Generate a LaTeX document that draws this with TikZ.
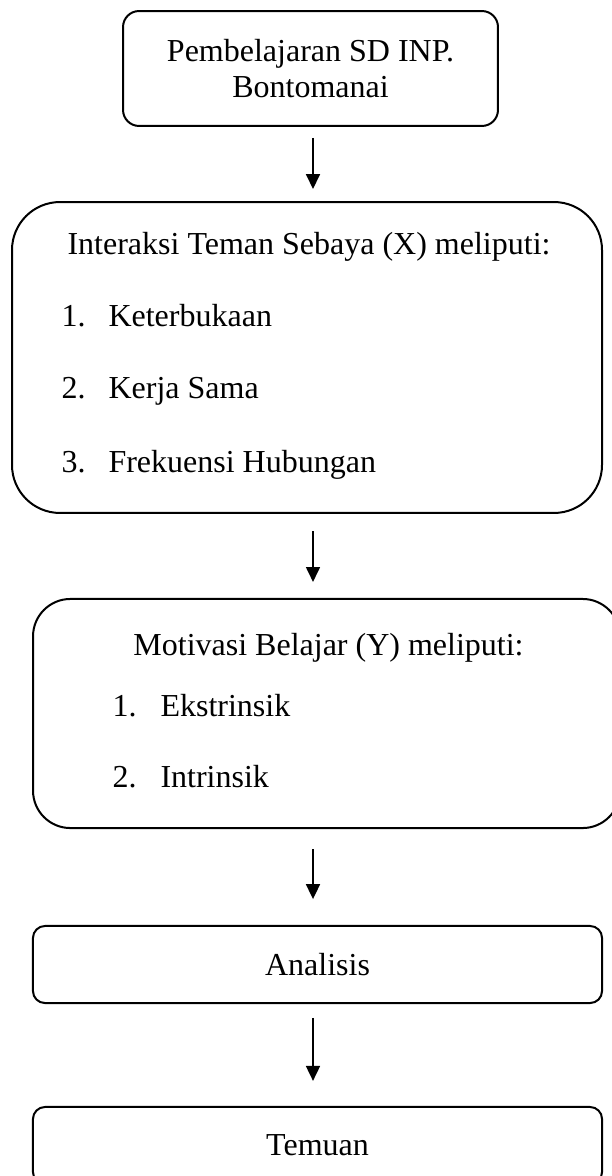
\documentclass[tikz,border=0pt]{standalone}
\usepackage{fontspec}
\setmainfont{Liberation Serif}
\usetikzlibrary{arrows.meta}
\begin{document}
\begin{tikzpicture}[x=0.375pt,y=-0.375pt,
                    box/.style={draw,line width=0.75pt,align=center,inner sep=0pt,
                                font=\fontsize{12}{13.8}\selectfont},
                    txt/.style={inner sep=0pt,font=\fontsize{12}{13.8}\selectfont},
                    flow/.style={line width=0.75pt,-{Triangle[length=5.6pt,width=5.2pt]}}
                   ]
  \useasboundingbox (0,0) rectangle (611,1176);
  \coordinate (ax) at (313,0);

  % boxes
  \node[box,minimum width=140.6pt,minimum height=43.1pt,rounded corners=6pt] (sd) at (310.5,68.5)
       {Pembelajaran SD INP.\\Bontomanai};
  \node[box,minimum width=221.25pt,minimum height=116.6pt,rounded corners=18pt] (x) at (307,357.5) {};
  \node[box,minimum width=220.1pt,minimum height=85.9pt,rounded corners=14pt] (y) at (326.5,713.5) {};
  \node[box,minimum width=213.4pt,minimum height=28.9pt,rounded corners=4.5pt] (an) at (317.5,964.5) {Analisis};
  \node[box,minimum width=213.4pt,minimum height=28.9pt,rounded corners=4.5pt] (tm) at (317.5,1145.5) {Temuan};

  % list in box X
  \node[txt,anchor=base] (xh) at (309,255) {Interaksi Teman Sebaya (X) meliputi:};
  \node[txt,anchor=base west] (x1n) at (61,327) {1.};
  \node[txt,anchor=base west] (x1) at (108,327) {Keterbukaan};
  \node[txt,anchor=base west] (x2n) at (61,398) {2.};
  \node[txt,anchor=base west] (x2) at (108,398) {Kerja Sama};
  \node[txt,anchor=base west] (x3n) at (61,472) {3.};
  \node[txt,anchor=base west] (x3) at (108,472) {Frekuensi Hubungan};

  % list in box Y
  \node[txt,anchor=base] (yh) at (328.5,655) {Motivasi Belajar (Y) meliputi:};
  \node[txt,anchor=base west] (y1n) at (112,716) {1.};
  \node[txt,anchor=base west] (y1) at (160,716) {Ekstrinsik};
  \node[txt,anchor=base west] (y2n) at (112,787) {2.};
  \node[txt,anchor=base west] (y2) at (160,787) {Intrinsik};

  \path%
   (sd.south -| ax) edge [flow,shorten <=4.1pt,shorten >=4.5pt] (x.north -| ax)
   (x.south -| ax)  edge [flow,shorten <=6.4pt,shorten >=6pt]   (y.north -| ax)
   (y.south -| ax)  edge [flow,shorten <=7.5pt,shorten >=9.7pt] (an.north -| ax)
   (an.south -| ax) edge [flow,shorten <=5.2pt,shorten >=9.4pt] (tm.north -| ax);
\end{tikzpicture}
\end{document}
